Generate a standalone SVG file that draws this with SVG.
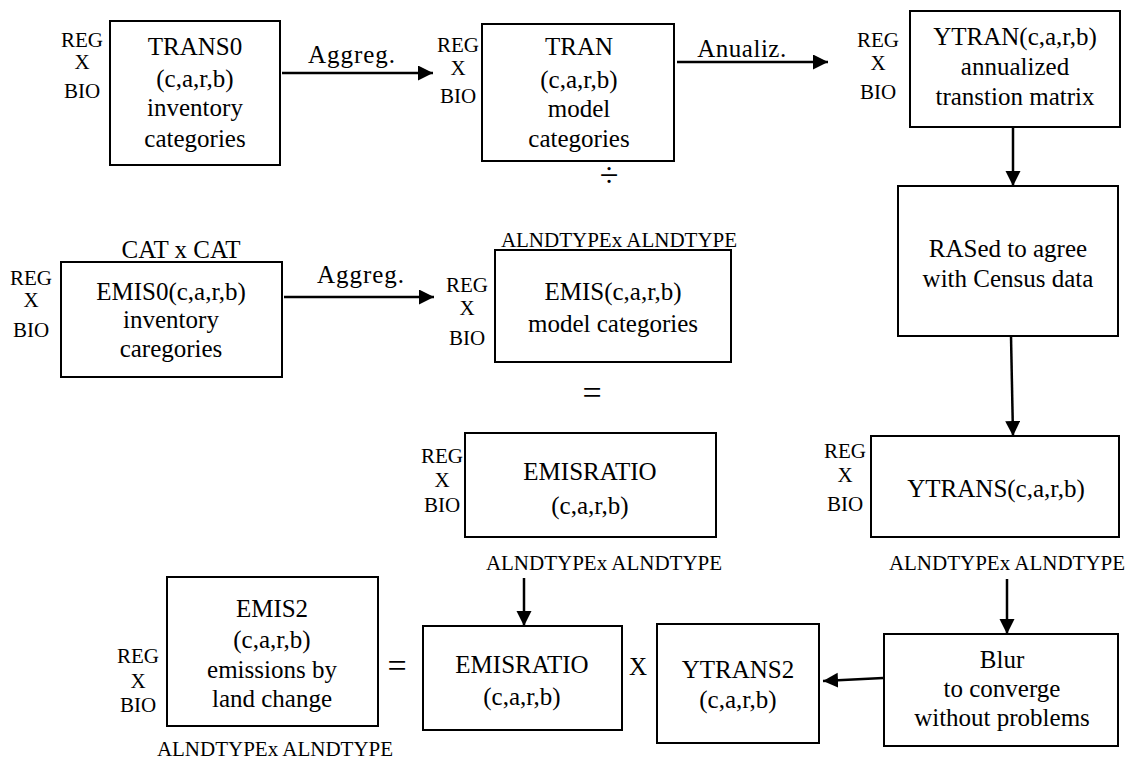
<svg xmlns="http://www.w3.org/2000/svg" width="1133" height="760" viewBox="0 0 1133 760" font-family="'Liberation Serif', 'DejaVu Serif', serif">
<style>
text{font-family:"Liberation Serif","DejaVu Serif",serif;fill:#000;text-anchor:middle}
.m{font-size:25px}
.s{font-size:21px}
.op{font-size:34px}
.box{fill:#fff;stroke:#000;stroke-width:2}
.c{stroke:#000;stroke-width:2.5;fill:none;marker-end:url(#ah)}
</style>
<defs>
<marker id="ah" markerUnits="userSpaceOnUse" markerWidth="16" markerHeight="16" refX="15" refY="7.5" orient="auto">
<path d="M0,0 L15,7.5 L0,15 z" fill="#000"/>
</marker>
</defs>
<rect width="1133" height="760" fill="#fff"/>

<g id="connectors">
<line class="c" x1="282" y1="73" x2="433" y2="73"/>
<line class="c" x1="677" y1="62" x2="828" y2="62"/>
<line class="c" x1="1013" y1="127" x2="1013" y2="186"/>
<line class="c" x1="1011" y1="336" x2="1013" y2="436"/>
<line class="c" x1="1007" y1="579" x2="1007" y2="634"/>
<line class="c" x1="883" y1="678" x2="823" y2="681"/>
<line class="c" x1="524" y1="578" x2="524" y2="626"/>
<line class="c" x1="284" y1="297" x2="434" y2="297"/>
<text class="m" x="352" y="63" letter-spacing="1">Aggreg.</text>
<text class="m" x="742" y="57" letter-spacing="0.5">Anualiz.</text>
<text class="m" x="361" y="283" letter-spacing="1">Aggreg.</text>
</g>

<g id="trans0">
<text class="s" x="82" y="47">REG</text>
<text class="s" x="82" y="69">X</text>
<text class="s" x="82" y="98">BIO</text>
<rect class="box" x="110" y="21" width="170" height="144"/>
<text class="m" x="195" y="55">TRANS0</text>
<text class="m" x="195" y="87">(c,a,r,b)</text>
<text class="m" x="195" y="116">inventory</text>
<text class="m" x="195" y="147">categories</text>
</g>

<g id="tran">
<text class="s" x="458" y="52">REG</text>
<text class="s" x="458" y="75">X</text>
<text class="s" x="458" y="103">BIO</text>
<rect class="box" x="482" y="24" width="192" height="137"/>
<text class="m" x="579" y="55">TRAN</text>
<text class="m" x="579" y="88">(c,a,r,b)</text>
<text class="m" x="579" y="117">model</text>
<text class="m" x="579" y="147">categories</text>
</g>
<text class="op" x="609" y="186" font-size="36">÷</text>

<g id="ytran">
<text class="s" x="878" y="47">REG</text>
<text class="s" x="878" y="70">X</text>
<text class="s" x="878" y="99">BIO</text>
<rect class="box" x="910" y="11" width="210" height="116"/>
<text class="m" x="1015" y="45">YTRAN(c,a,r,b)</text>
<text class="m" x="1015" y="75">annualized</text>
<text class="m" x="1015" y="105">transtion matrix</text>
</g>

<g id="rased">
<rect class="box" x="898" y="186" width="220" height="150"/>
<text class="m" x="1008" y="257">RASed to agree</text>
<text class="m" x="1008" y="287">with Census data</text>
</g>

<g id="emis0">
<text class="m" x="181" y="258">CAT x CAT</text>
<text class="s" x="31" y="285">REG</text>
<text class="s" x="31" y="307">X</text>
<text class="s" x="31" y="337">BIO</text>
<rect class="box" x="61" y="262" width="221" height="115"/>
<text class="m" x="171" y="300">EMIS0(c,a,r,b)</text>
<text class="m" x="171" y="328">inventory</text>
<text class="m" x="171" y="357">caregories</text>
</g>

<g id="emis">
<text class="s" x="619" y="247">ALNDTYPEx ALNDTYPE</text>
<text class="s" x="467" y="292">REG</text>
<text class="s" x="467" y="315">X</text>
<text class="s" x="467" y="345">BIO</text>
<rect class="box" x="495" y="250" width="236" height="112"/>
<text class="m" x="613" y="300">EMIS(c,a,r,b)</text>
<text class="m" x="613" y="332">model categories</text>
</g>
<text class="op" x="592" y="404">=</text>

<g id="emisratio1">
<text class="s" x="442" y="463">REG</text>
<text class="s" x="442" y="487">X</text>
<text class="s" x="442" y="512">BIO</text>
<rect class="box" x="465" y="433" width="251" height="104"/>
<text class="m" x="590" y="480">EMISRATIO</text>
<text class="m" x="590" y="514">(c,a,r,b)</text>
<text class="s" x="604" y="570">ALNDTYPEx ALNDTYPE</text>
</g>

<g id="ytrans">
<text class="s" x="845" y="458">REG</text>
<text class="s" x="845" y="482">X</text>
<text class="s" x="845" y="511">BIO</text>
<rect class="box" x="871" y="436" width="248" height="101"/>
<text class="m" x="996" y="497">YTRANS(c,a,r,b)</text>
<text class="s" x="1007" y="570">ALNDTYPEx ALNDTYPE</text>
</g>

<g id="emis2">
<text class="s" x="138" y="663">REG</text>
<text class="s" x="138" y="688">X</text>
<text class="s" x="138" y="712">BIO</text>
<rect class="box" x="167" y="577" width="211" height="149"/>
<text class="m" x="272" y="617">EMIS2</text>
<text class="m" x="272" y="648">(c,a,r,b)</text>
<text class="m" x="272" y="678">emissions by</text>
<text class="m" x="272" y="707">land change</text>
<text class="s" x="275" y="756">ALNDTYPEx ALNDTYPE</text>
</g>
<text class="op" x="397" y="677">=</text>

<g id="emisratio2">
<rect class="box" x="423" y="626" width="199" height="104"/>
<text class="m" x="522" y="673">EMISRATIO</text>
<text class="m" x="522" y="705">(c,a,r,b)</text>
</g>
<text class="m" x="638" y="675">X</text>

<g id="ytrans2">
<rect class="box" x="657" y="624" width="162" height="119"/>
<text class="m" x="738" y="678">YTRANS2</text>
<text class="m" x="738" y="708">(c,a,r,b)</text>
</g>

<g id="blur">
<rect class="box" x="884" y="634" width="234" height="112"/>
<text class="m" x="1002" y="668">Blur</text>
<text class="m" x="1002" y="697">to converge</text>
<text class="m" x="1002" y="726">without problems</text>
</g>
</svg>
